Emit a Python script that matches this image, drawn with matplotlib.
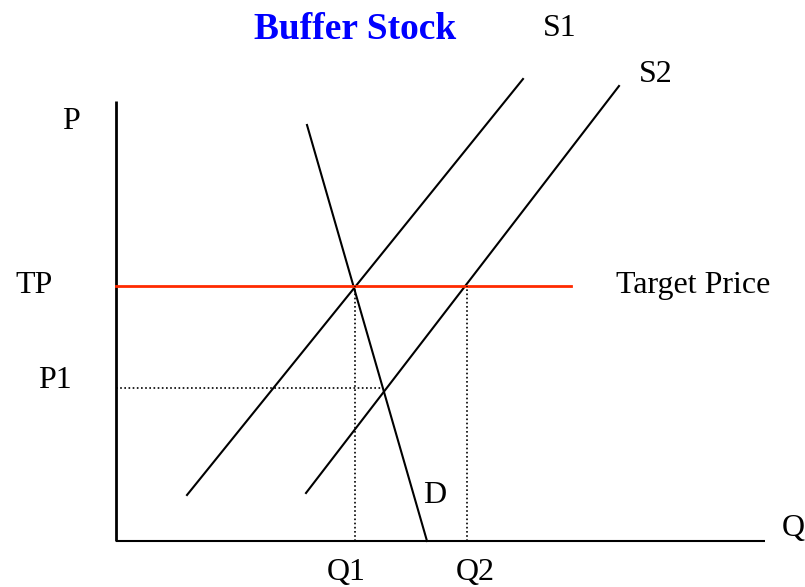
import matplotlib
matplotlib.use("Agg")
import matplotlib.pyplot as plt

# Economic coordinates (Q to the right, P upwards)
demand_q = [191, 311]
demand_p = [416, 0]
supply1_q = [71, 407]
supply1_p = [46, 462]
supply2_q = [190, 503]
supply2_p = [48, 455]
target_price = 255
target_q_end = 455
p1 = 153
p1_q_end = 266
q1 = 239
q2 = 351
p_axis_top = 440
q_axis_end = 649

fig = plt.figure(figsize=(8.05, 5.87), dpi=100)
ax = fig.add_axes([0, 0, 1, 1])
ax.set_xlim(-116, 689)
ax.set_ylim(-46, 541)
ax.axis("off")

font = "Liberation Serif"
fs = 23
lw = 1.5

# Axes
ax.plot([0, 0], [0, p_axis_top], color="black", lw=2, solid_capstyle="butt")
ax.plot([0, q_axis_end], [0, 0], color="black", lw=1.5, solid_capstyle="butt")

# Curves
ax.plot(demand_q, demand_p, color="black", lw=lw)
ax.plot(supply1_q, supply1_p, color="black", lw=lw)
ax.plot(supply2_q, supply2_p, color="black", lw=lw)

# Target price
ax.plot([0, target_q_end], [target_price, target_price], color="#ff2a00", lw=2)

# Dotted guides
dot = (0, (1, 1.5))
ax.plot([0, p1_q_end], [p1, p1], color="black", lw=1.2, linestyle=dot)
ax.plot([q1, q1], [0, target_price], color="black", lw=1.2, linestyle=dot)
ax.plot([q2, q2], [0, target_price], color="black", lw=1.2, linestyle=dot)

def label(q, p, s, **kw):
    ax.text(q, p, s, family=font, fontsize=fs, ha="left", va="baseline", **kw)

# Title
ax.text(355 - 116, 541 - 39, "Buffer Stock", family=font, fontsize=27,
        fontweight="bold", color="#0000ff", ha="center", va="baseline")

label(543 - 116, 541 - 36, "S1")
label(639 - 116, 541 - 82, "S2")
label(62 - 116, 541 - 129, "P")
label(15 - 116, 541 - 293, "TP")
label(616 - 116, 541 - 293, "Target Price")
label(38 - 116, 541 - 388, "P1")
label(423 - 116, 541 - 503, "D")
label(782 - 116, 541 - 536, "Q")
label(327 - 116, 541 - 580, "Q1")
label(456 - 116, 541 - 580, "Q2")

fig.savefig("out.png", dpi=100)
